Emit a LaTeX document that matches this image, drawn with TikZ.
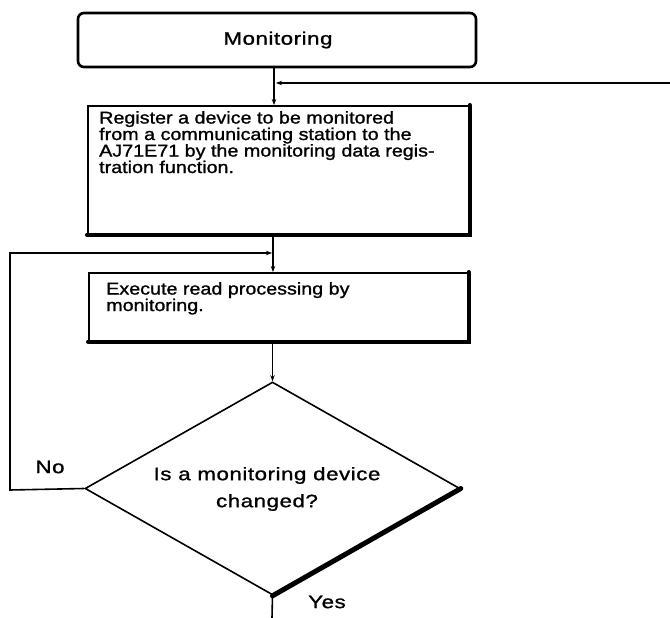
\documentclass[tikz,border=0pt]{standalone}
\usepackage{fontspec}
\setmainfont{Liberation Sans}[FakeStretch=1.16,FakeBold=1.2]
\newfontfamily\widefont{Liberation Sans}[FakeStretch=1.24,LetterSpace=3,FakeBold=1.2]
\usetikzlibrary{shapes.geometric,arrows.meta}
\begin{document}
\begin{tikzpicture}[x=1pt,y=-1pt,
  thin line/.style={line width=1.6pt},
  shadow line/.style={line width=4pt,line cap=round},
  flow/.style={thin line,-{Stealth[length=6pt,width=4.5pt]}},
  boxstyle/.style={draw,thin line,rectangle,inner sep=0pt,anchor=north west},
  bodytext/.style={anchor=north west,align=left,inner sep=0pt,font=\fontsize{17}{16.5}\selectfont},
  bigtext/.style={inner sep=0pt,font=\widefont\fontsize{18}{27}\selectfont}]
\useasboundingbox (0,0) rectangle (670,618);
% start terminal
\node[draw,line width=2.6pt,rounded corners=6pt,rectangle,minimum width=398pt,minimum height=54pt,inner sep=0pt] (mon) at (277,40) {};
\node[bigtext] (montxt) at (278,40) {Monitoring};
% register box
\node[boxstyle,minimum width=381pt,minimum height=128pt] (reg) at (87,105) {};
\draw[shadow line] (reg.north east) -- (reg.south east) -- (reg.south west);
\node[bodytext] (regtxt) at (99,111) {Register a device to be monitored\\from a communicating station to the\\AJ71E71 by the monitoring data regis-\\tration function.};
% execute box
\node[boxstyle,minimum width=379pt,minimum height=68pt] (exe) at (88,272) {};
\draw[shadow line] (exe.north east) -- (exe.south east) -- (exe.south west);
\node[bodytext] (exetxt) at (106,282) {Execute read processing by\\monitoring.};
% decision
\node[draw,thin line,diamond,shape aspect=1.76,minimum width=375pt,minimum height=213pt,inner sep=0pt] (dia) at (272.5,488.5) {};
\draw[line width=5pt,line cap=round] (dia.east) -- (dia.south);
\node[bigtext,align=center] (diatxt) at (267,489) {Is a monitoring device\\changed?};
% coordinates
\coordinate (fbin) at (670,83);
\coordinate (fbjoin) at (274,83);
\coordinate (loopjoin) at (273,253);
\coordinate (loopcorner) at (10,253);
\coordinate (nocorner) at (10,490);
\coordinate (yesend) at (272,618);
% connectors
\draw[thin line] (mon.south -| fbjoin) -- (fbjoin);
\draw[flow] (fbjoin) -- (reg.north -| fbjoin);
\draw[flow] (fbin) -- ([xshift=2pt]fbjoin);
\draw[thin line] (reg.south -| loopjoin) -- (loopjoin);
\draw[flow] (loopjoin) -- (exe.north -| loopjoin);
\draw[flow] (dia.west) -- (nocorner) -- (loopcorner) -- ([xshift=-1pt]loopjoin);
\draw[flow] (exe.south -| dia.north) -- (dia.north);
\draw[thin line] (dia.south) -- (yesend);
% labels
\node[bigtext] (nolbl) at (50,467) {No};
\node[bigtext] (yeslbl) at (327,602) {Yes};
\end{tikzpicture}
\end{document}
